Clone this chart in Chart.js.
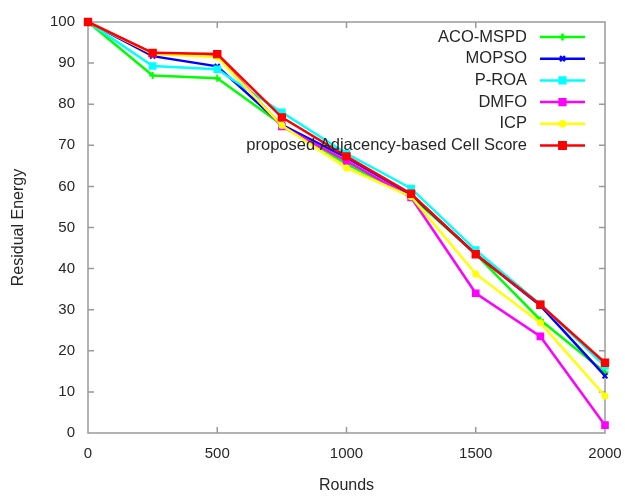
<!DOCTYPE html>
<html>
<head>
<meta charset="utf-8">
<script src="https://cdn.jsdelivr.net/npm/chart.js@4/dist/chart.umd.min.js"></script>
<style>
  html, body { margin: 0; padding: 0; background: #fff; }
  #wrap { width: 625px; height: 500px; }
</style>
</head>
<body>
<div id="wrap"><canvas id="energyChart" width="625" height="500"></canvas></div>
<script>
const rounds = [0, 250, 500, 750, 1000, 1250, 1500, 1750, 2000];
const acoMspd = [100, 87, 86.3, 75, 65.5, 57.5, 43.5, 27.5, 14.8];
const mopso = [100, 91.7, 89.2, 75, 67, 58, 43.5, 31, 13.9];
const pRoa = [100, 89.3, 88.5, 78, 68, 59.5, 44.5, 31.3, 16.3];
const dmfo = [100, 92.3, 92, 74.6, 66.2, 57.3, 34, 23.5, 1.9];
const icp = [100, 92.3, 91.5, 74.8, 64.5, 57.5, 38.7, 26.8, 9];
const proposed = [100, 92.5, 92.2, 76.8, 67.3, 58.2, 43.5, 31.2, 17.1];

const FONT = '"Liberation Sans", Arial, sans-serif';
const TEXT = '#262626';
const FRAME = '#9a9a9a';

function pts(values) {
  return values.map((v, i) => ({ x: rounds[i], y: v }));
}

function series(label, values, color, style, radius) {
  return {
    label: label,
    data: pts(values),
    borderColor: color,
    backgroundColor: color,
    borderWidth: 2.5,
    pointStyle: style,
    pointRadius: radius,
    pointBorderWidth: 2,
    pointHoverRadius: radius,
    tension: 0,
    clip: false
  };
}

const datasets = [
  series('ACO-MSPD', acoMspd, '#00ff00', 'cross', 3.5),
  series('MOPSO', mopso, '#0000ff', 'crossRot', 3.5),
  series('P-ROA', pRoa, '#00ffff', 'rect', 4),
  series('DMFO', dmfo, '#ff00ff', 'rect', 4),
  series('ICP', icp, '#ffff00', 'circle', 2.5),
  series('proposed Adjacency-based Cell Score', proposed, '#ff0000', 'rect', 4.5)
];
// later series on top, like the original plot
datasets.forEach((d, i) => { d.order = datasets.length - i; });

// frame with inward tick marks on all four sides
const framePlugin = {
  id: 'frame',
  beforeDatasetsDraw(chart) {
    const { ctx, chartArea: a, scales } = chart;
    const len = 6;
    ctx.save();
    ctx.strokeStyle = FRAME;
    ctx.lineWidth = 1.5;
    ctx.strokeRect(a.left, a.top, a.right - a.left, a.bottom - a.top);
    ctx.beginPath();
    scales.x.ticks.forEach(t => {
      const px = scales.x.getPixelForValue(t.value);
      if (px <= a.left + 1 || px >= a.right - 1) return;
      ctx.moveTo(px, a.bottom); ctx.lineTo(px, a.bottom - len);
      ctx.moveTo(px, a.top); ctx.lineTo(px, a.top + len);
    });
    scales.y.ticks.forEach(t => {
      const py = scales.y.getPixelForValue(t.value);
      if (py <= a.top + 1 || py >= a.bottom - 1) return;
      ctx.moveTo(a.left, py); ctx.lineTo(a.left + len, py);
      ctx.moveTo(a.right, py); ctx.lineTo(a.right - len, py);
    });
    ctx.stroke();
    ctx.restore();
  }
};

// gnuplot style key: text right aligned, sample line to its right
const keyPlugin = {
  id: 'key',
  afterDatasetsDraw(chart) {
    const { ctx } = chart;
    const textRight = 527, lineX1 = 540, lineX2 = 585, top = 37, step = 21.7;
    ctx.save();
    ctx.font = '16.5px ' + FONT;
    ctx.textAlign = 'right';
    ctx.textBaseline = 'middle';
    chart.data.datasets.forEach((ds, i) => {
      const y = top + i * step;
      ctx.fillStyle = TEXT;
      ctx.fillText(ds.label, textRight, y);
      ctx.strokeStyle = ds.borderColor;
      ctx.lineWidth = ds.borderWidth;
      ctx.beginPath();
      ctx.moveTo(lineX1, y);
      ctx.lineTo(lineX2, y);
      ctx.stroke();
      Chart.helpers.drawPoint(ctx, {
        pointStyle: ds.pointStyle,
        radius: ds.pointRadius,
        borderWidth: ds.pointBorderWidth,
        rotation: 0
      }, (lineX1 + lineX2) / 2, y);
      ctx.fillStyle = ds.backgroundColor;
      ctx.fill();
    });
    ctx.restore();
  }
};

const ctx = document.getElementById('energyChart').getContext('2d');
new Chart(ctx, {
  type: 'line',
  data: { datasets: datasets },
  plugins: [framePlugin, keyPlugin],
  options: {
    responsive: false,
    animation: false,
    events: [],
    layout: { padding: { top: 22, right: 20, bottom: 0, left: 0 } },
    plugins: {
      legend: { display: false },
      tooltip: { enabled: false }
    },
    scales: {
      x: {
        type: 'linear',
        min: 0,
        max: 2000,
        ticks: {
          stepSize: 500, padding: 12, color: TEXT, font: { family: FONT, size: 15 },
          callback: (v) => String(v)
        },
        grid: { display: false, drawTicks: false },
        border: { display: false },
        title: { display: true, text: 'Rounds', color: TEXT, font: { family: FONT, size: 16 }, padding: { top: 10, bottom: 5 } },
        afterFit(scale) {
          scale.height = 67;
          scale.paddingLeft = 0;
          scale.paddingRight = 0;
        }
      },
      y: {
        min: 0,
        max: 100,
        ticks: {
          stepSize: 10, padding: 13, color: TEXT, font: { family: FONT, size: 15 },
          callback: (v) => String(v)
        },
        grid: { display: false, drawTicks: false },
        border: { display: false },
        title: { display: true, text: 'Residual Energy', color: TEXT, font: { family: FONT, size: 16 }, padding: { top: 9, bottom: 4 } },
        afterFit(scale) {
          scale.width = 88;
          scale.paddingTop = 0;
          scale.paddingBottom = 0;
        }
      }
    }
  }
});
</script>
</body>
</html>
